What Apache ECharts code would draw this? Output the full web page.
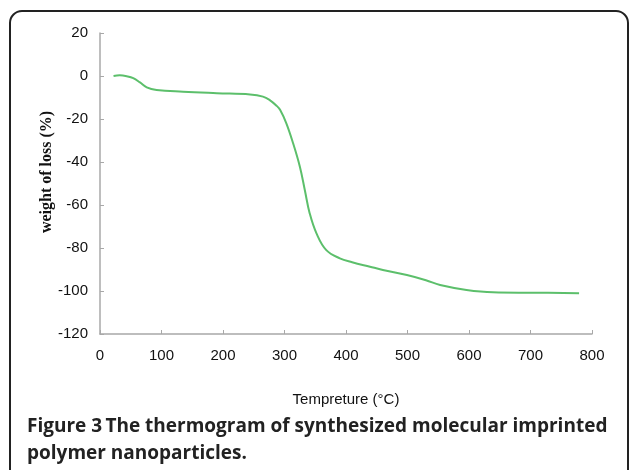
<!DOCTYPE html>
<html>
<head>
<meta charset="utf-8">
<script src="https://cdn.jsdelivr.net/npm/echarts@6/dist/echarts.min.js"></script>
<style>
  html, body { margin: 0; padding: 0; background: #fff; }
  #chart { width: 629px; height: 470px; }
</style>
</head>
<body>
<div id="chart"></div>
<script>
// temperature (°C) and weight change (%)
const temps = [22, 32, 45, 54, 65, 76, 92, 135, 190, 244, 265, 276, 287, 293, 303, 314, 325, 333, 341, 352, 368, 390, 410, 439, 460, 499, 530, 553, 596, 639, 704, 779];
const weights = [0, 0.3, -0.2, -1, -3, -5.3, -6.5, -7.3, -8, -8.6, -9.6, -11.2, -13.8, -15.8, -22, -31.3, -42.2, -53, -63.9, -73.2, -81, -84.8, -86.6, -88.7, -90.2, -92.6, -95, -97.2, -99.5, -100.6, -100.8, -101];
const xTicks = [0, 800, 100];   // min, max, step
const yTicks = [-120, 20, 20];

const chart = echarts.init(document.getElementById('chart'));
const points = temps.map((t, i) => [t, weights[i]]);

chart.setOption({
    animation: false,
    grid: { left: 100, top: 33, right: 37, bottom: 136 },
    xAxis: {
        type: 'value',
        min: xTicks[0], max: xTicks[1], interval: xTicks[2],
        name: 'Tempreture (°C)',
        nameLocation: 'middle',
        nameGap: 58,
        nameTextStyle: { color: '#111', fontSize: 15, fontFamily: 'Liberation Sans' },
        axisLine: { onZero: false, lineStyle: { color: '#a8a8a8', width: 1.5 } },
        axisTick: { inside: true, length: 4, lineStyle: { color: '#a8a8a8' } },
        axisLabel: { color: '#111', fontSize: 15, fontFamily: 'Liberation Sans', margin: 14 },
        splitLine: { show: false }
    },
    yAxis: {
        type: 'value',
        min: yTicks[0], max: yTicks[1], interval: yTicks[2],
        axisLine: { show: true, onZero: false, lineStyle: { color: '#a8a8a8', width: 1.5 } },
        axisTick: { show: true, inside: true, length: 4, lineStyle: { color: '#a8a8a8' } },
        axisLabel: { color: '#111', fontSize: 15, fontFamily: 'Liberation Sans', margin: 12 },
        splitLine: { show: false }
    },
    series: [{
        type: 'line',
        data: points,
        smooth: 0.4,
        showSymbol: false,
        lineStyle: { color: '#5cbf6b', width: 2 }
    }],
    graphic: [
        {
            type: 'rect',
            shape: { x: 10, y: 11, width: 618, height: 500, r: 12 },
            style: { fill: 'none', stroke: '#222', lineWidth: 2 },
            silent: true
        },
        {
            type: 'text',
            x: 47, y: 172,
            rotation: Math.PI / 2,
            style: {
                text: 'weight of loss (%)',
                fill: '#111',
                font: 'bold 16px "Liberation Serif"',
                align: 'center',
                verticalAlign: 'middle'
            }
        },
        {
            type: 'text',
            left: 27, top: 417,
            style: {
                text: '{b|Figure 3} {s|The thermogram of synthesized molecular imprinted}\n{s|polymer nanoparticles.}',
                rich: {
                    b: { fontFamily: 'Open Sans', fontWeight: 'bold', fontSize: 19, fill: '#222', lineHeight: 27 },
                    s: { fontFamily: 'Open Sans', fontWeight: 'bold', fontSize: 19, fill: '#222', lineHeight: 27 }
                }
            }
        }
    ]
});
</script>
</body>
</html>
